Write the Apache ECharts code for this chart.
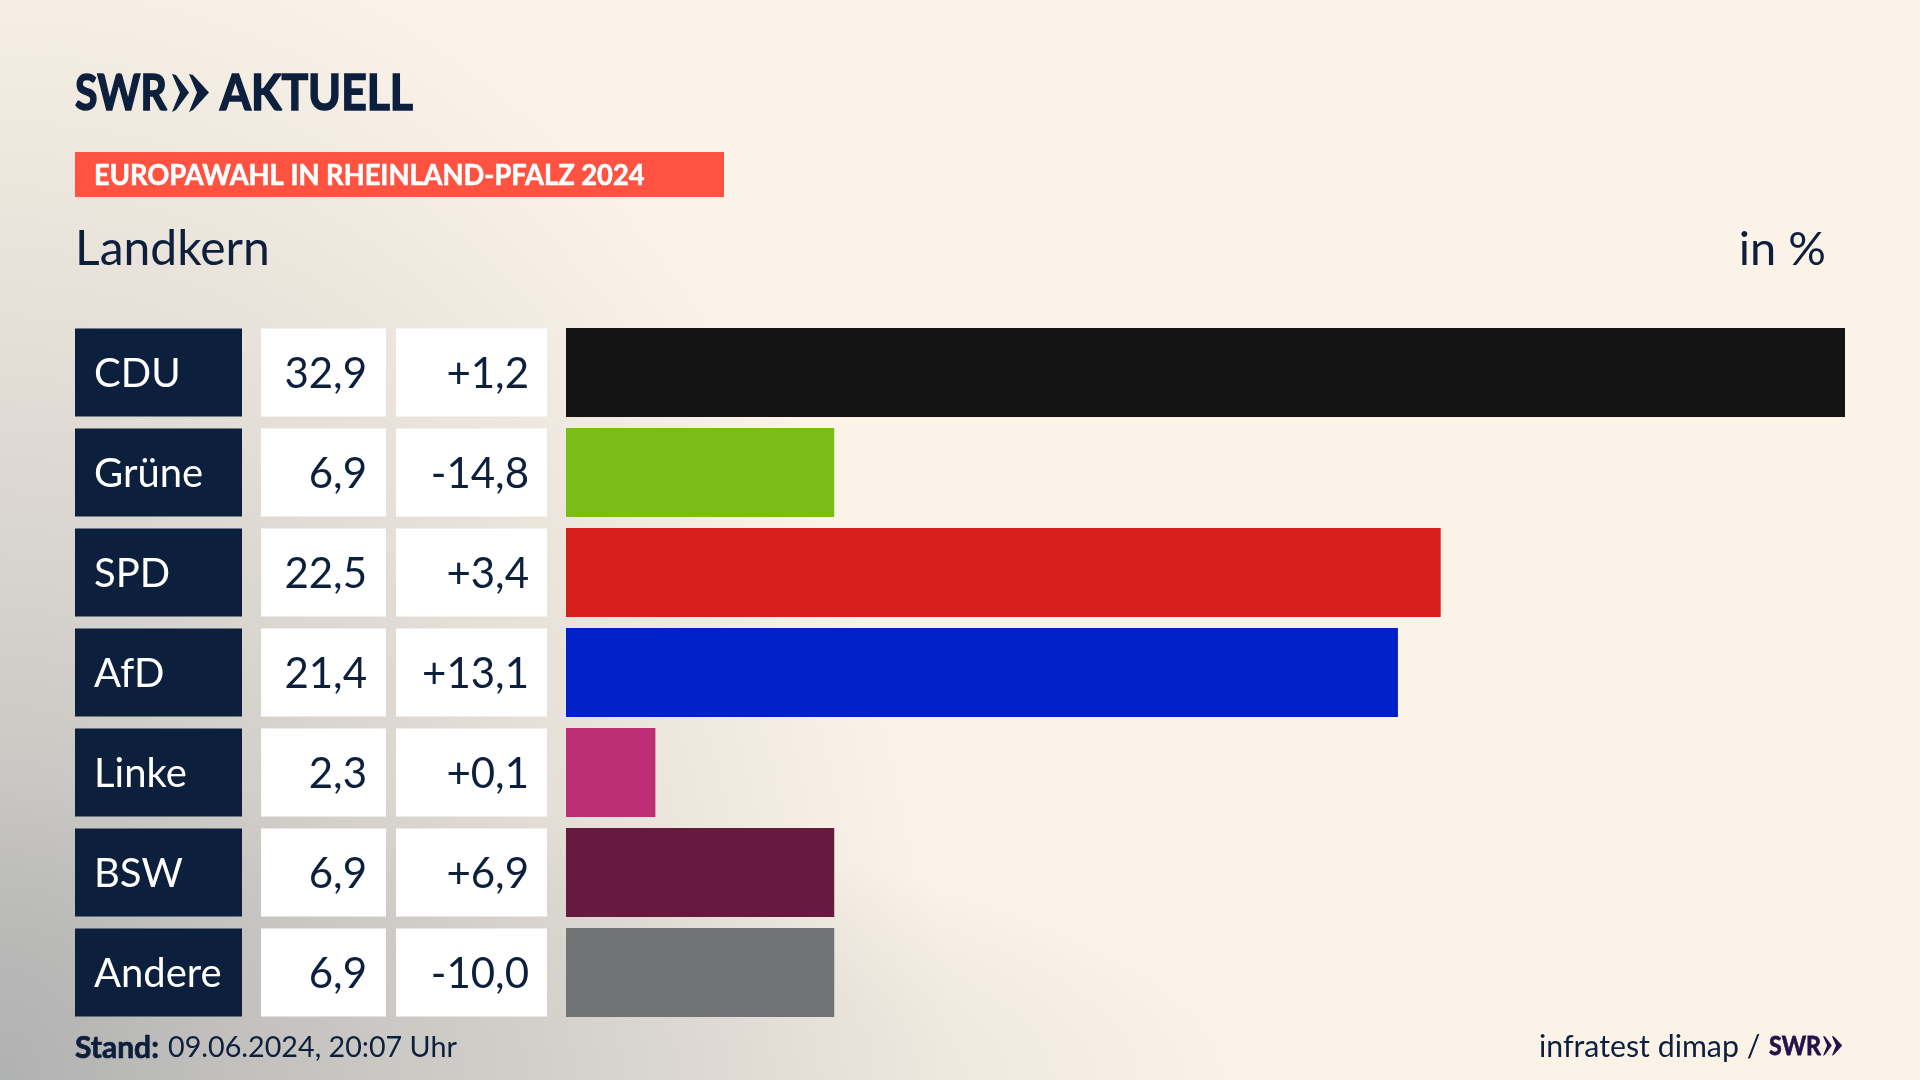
<!DOCTYPE html>
<html>
<head>
<meta charset="utf-8">
<title>Europawahl in Rheinland-Pfalz 2024</title>
<script src="https://cdn.jsdelivr.net/npm/echarts@6/dist/echarts.min.js"></script>
<style>
html, body { margin: 0; padding: 0; }
body {
	width: 1920px; height: 1080px; overflow: hidden;
	background:
		radial-gradient(ellipse 1250px 300px at 0% 100%, rgba(176,177,177,.35) 0%, rgba(176,177,177,.29) 44%, rgba(176,177,177,.19) 72%, rgba(176,177,177,.03) 96%, rgba(176,177,177,0) 100%),
		radial-gradient(ellipse 950px 1200px at 0% 100%, rgba(176,177,177,1) 0%, rgba(176,177,177,.68) 23%, rgba(176,177,177,.5) 40%, rgba(176,177,177,.28) 65%, rgba(176,177,177,.07) 90%, rgba(176,177,177,0) 100%),
		#fbf3e8;
}
#chart { width: 1920px; height: 1080px; }
</style>
</head>
<body>
<div id="chart"></div>
<script>
var parties = ['CDU', 'Grüne', 'SPD', 'AfD', 'Linke', 'BSW', 'Andere'];
var shares = [32.9, 6.9, 22.5, 21.4, 2.3, 6.9, 6.9];
var changes = [1.2, -14.8, 3.4, 13.1, 0.1, 6.9, -10.0];
var barColors = ['#141414', '#7abd19', '#d71f1d', '#0021c8', '#bc2e75', '#67193f', '#717375'];

var navy = '#0c1f3d';
var textFont = 'Lato';

function deNumber(v) {
	return v.toFixed(1).replace('.', ',');
}
function deChange(v) {
	return (v > 0 ? '+' : '') + deNumber(v);
}

// two-arrow mark next to SWR, drawn at logo size 38 and scaled by s
function arrows(x, y, s, color) {
	function chevron(x0, w) {
		return {
			type: 'polygon',
			x: x, y: y, scaleX: s, scaleY: s,
			shape: { points: [[x0, 0], [x0 + 4, 1], [x0 + w, 18.5], [x0 + 4, 36], [x0, 38], [x0 + 8, 18.5]] },
			style: { fill: color },
			silent: true
		};
	}
	return [chevron(0, 17), chevron(17, 20)];
}

function label(text, x, y, size, color, opts, scaleX) {
	return {
		type: 'text',
		silent: true,
		x: x, y: y, scaleX: scaleX || 1,
		style: Object.assign({
			text: text, x: 0, y: 0, fill: color,
			fontFamily: textFont, fontSize: size,
			verticalAlign: 'middle'
		}, opts || {})
	};
}

// Lato stops at bold here, a thin outline gives the heavier logo look
function heavy(color, width) {
	return { fontWeight: 'bold', stroke: color, lineWidth: width };
}

var graphics = [
	label('SWR', 75, 94, 50, navy, heavy(navy, 1.6), 0.82),
	label('AKTUELL', 220, 94, 50, navy, heavy(navy, 1.6), 0.89),
	{ type: 'rect', shape: { x: 75, y: 152, width: 649, height: 45 }, style: { fill: '#ff5240' }, silent: true },
	label('EUROPAWAHL IN RHEINLAND-PFALZ 2024', 94, 176, 29, '#fff', heavy('#fff', 0.6), 0.94),
	label('Landkern', 75, 250, 48, navy),
	label('in %', 1826, 250, 47, navy, { align: 'right' }),
	label('Stand:', 75, 1048, 30, navy, heavy(navy, 0.7)),
	label('09.06.2024, 20:07 Uhr', 168, 1048, 28.7, navy),
	label('infratest dimap /', 1539, 1047, 30.3, navy),
	label('SWR', 1769, 1046, 27, '#24104a', heavy('#24104a', 0.8), 0.86)
].concat(arrows(172, 74, 1, navy), arrows(1823, 1036, 0.52, '#24104a'));

var chart = echarts.init(document.getElementById('chart'));
chart.setOption({
	animation: false,
	textStyle: { fontFamily: textFont },
	graphic: graphics,
	grid: { left: 566, top: 322.5, width: 1279, height: 700, containLabel: false },
	xAxis: { type: 'value', min: 0, max: 32.9, show: false },
	yAxis: {
		type: 'category',
		inverse: true,
		data: parties,
		axisLine: { show: false },
		axisTick: { show: false },
		axisLabel: {
			interval: 0,
			margin: 19,
			formatter: function(name, i) {
				return '{name|' + name + '}{gapA| }{share|' + deNumber(shares[i]) + '}{gapB| }{change|' + deChange(changes[i]) + '}';
			},
			rich: {
				name: { width: 148, height: 84, padding: [4, 0, 0, 19], align: 'left', backgroundColor: navy, color: '#fff', fontFamily: textFont, fontSize: 40 },
				gapA: { width: 19, height: 88, fontSize: 10 },
				share: { width: 106, height: 84, padding: [4, 19, 0, 0], align: 'right', backgroundColor: '#fff', color: navy, fontFamily: textFont, fontSize: 42 },
				gapB: { width: 10, height: 88, fontSize: 10 },
				change: { width: 133, height: 84, padding: [4, 18, 0, 0], align: 'right', backgroundColor: '#fff', color: navy, fontFamily: textFont, fontSize: 42 }
			}
		}
	},
	series: [{
		type: 'bar',
		barWidth: 89,
		silent: true,
		data: shares.map(function(v, i) {
			return { value: v, itemStyle: { color: barColors[i] } };
		})
	}]
});
</script>
</body>
</html>
